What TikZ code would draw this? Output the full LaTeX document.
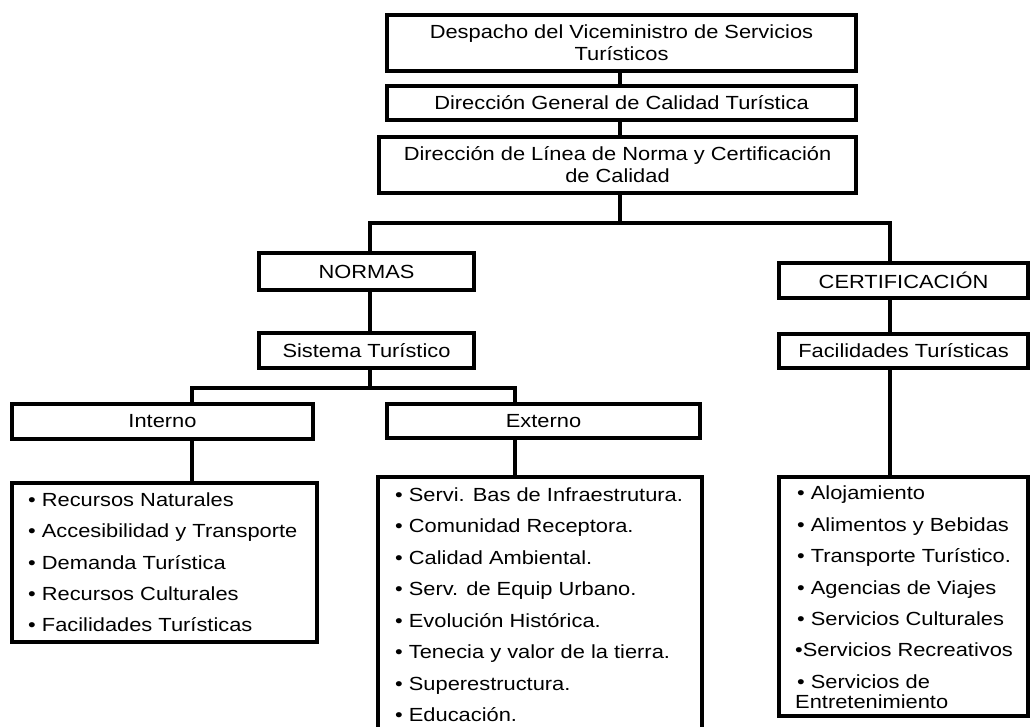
\documentclass[tikz,border=0pt]{standalone}
\usepackage{fontspec}
\setmainfont{Liberation Sans}[FakeStretch=1.15]
\begin{document}
\begin{tikzpicture}[x=1pt,y=-1pt,
  box/.style={draw, line width=3.5pt, inner sep=0pt, align=center, font=\fontsize{19}{22}\selectfont},
  conn/.style={line width=3.5pt},
  item/.style={anchor=base west, inner sep=0pt, font=\fontsize{19}{22}\selectfont}]
\useasboundingbox (0,0) rectangle (1031,726);
\clip (0,0) rectangle (1031,726);
\fill[white] (0,0) rectangle (1031,726);
% header boxes
\node[box, minimum width=469pt, minimum height=56pt] (b1) at (621.5,43) {Despacho del Viceministro de Servicios\\Turísticos};
\node[box, minimum width=469pt, minimum height=34pt] (b2) at (621.5,103) {Dirección General de Calidad Turística};
\node[box, minimum width=477pt, minimum height=56pt] (b3) at (617.5,165) {Dirección de Línea de Norma y Certificación\\de Calidad};
\node[box, minimum width=215pt, minimum height=37pt] (nor) at (366.5,271.5) {NORMAS};
\node[box, minimum width=215pt, minimum height=35pt] (sis) at (366.5,350.5) {Sistema Turístico};
\node[box, minimum width=301pt, minimum height=35pt] (int) at (162.5,421.5) {Interno};
\node[box, minimum width=313pt, minimum height=34pt] (ext) at (543.5,421) {Externo};
\node[box, minimum width=249pt, minimum height=35pt] (cert) at (903.5,280.5) {CERTIFICACIÓN};
\node[box, minimum width=249pt, minimum height=34pt] (fac) at (903.5,351) {Facilidades Turísticas};
% list boxes
\node[box, minimum width=305pt, minimum height=159pt] (lint) at (164.5,562.5) {};
\node[box, minimum width=324pt, minimum height=283pt] (lext) at (540,618.5) {};
\node[box, minimum width=249pt, minimum height=239pt] (lcert) at (903.5,596.5) {};
% junctions
\coordinate (j1) at (620,223);
\coordinate (jl) at (370,223);
\coordinate (jr) at (890,223);
\coordinate (j2) at (370,388);
\coordinate (j2l) at (192,388);
\coordinate (j2r) at (515,388);
% connectors
\draw[conn] (b1.south -| j1) -- (b2.north -| j1);
\draw[conn] (b2.south -| j1) -- (b3.north -| j1);
\draw[conn] (b3.south -| j1) -- (j1);
\draw[conn] (nor.north -| jl) -- (jl) -- (jr) -- (cert.north -| jr);
\draw[conn] (nor.south -| jl) -- (sis.north -| jl);
\draw[conn] (sis.south -| j2) -- (j2);
\draw[conn] (int.north -| j2l) -- (j2l) -- (j2r) -- (ext.north -| j2r);
\draw[conn] (int.south -| j2l) -- (lint.north -| j2l);
\draw[conn] (ext.south -| j2r) -- (lext.north -| j2r);
\draw[conn] (cert.south -| jr) -- (fac.north -| jr);
\draw[conn] (fac.south -| jr) -- (lcert.north -| jr);
% list items
\foreach \t [count=\i] in {• Recursos Naturales, • Accesibilidad y Transporte, • Demanda Turística, • Recursos Culturales, • Facilidades Turísticas}
  \node[item] (ia\i) at (28,{506.5+31.25*(\i-1)}) {\t};
\foreach \t [count=\i] in {• Servi. Bas de Infraestrutura., • Comunidad Receptora., • Calidad Ambiental., • Serv. de Equip Urbano., • Evolución Histórica., • Tenecia y valor de la tierra., • Superestructura., • Educación.}
  \node[item] (ib\i) at (395,{501.5+31.43*(\i-1)}) {\t};
\foreach \t [count=\i] in {• Alojamiento, • Alimentos y Bebidas, • Transporte Turístico., • Agencias de Viajes, • Servicios Culturales}
  \node[item] (ic\i) at (797,{499.5+31.5*(\i-1)}) {\t};
\node[item] (ic6) at (795,656.5) {•Servicios Recreativos};
\node[item] (ic7) at (797,688.5) {• Servicios de};
\node[item] (ic8) at (795,708.5) {Entretenimiento};
\end{tikzpicture}
\end{document}
